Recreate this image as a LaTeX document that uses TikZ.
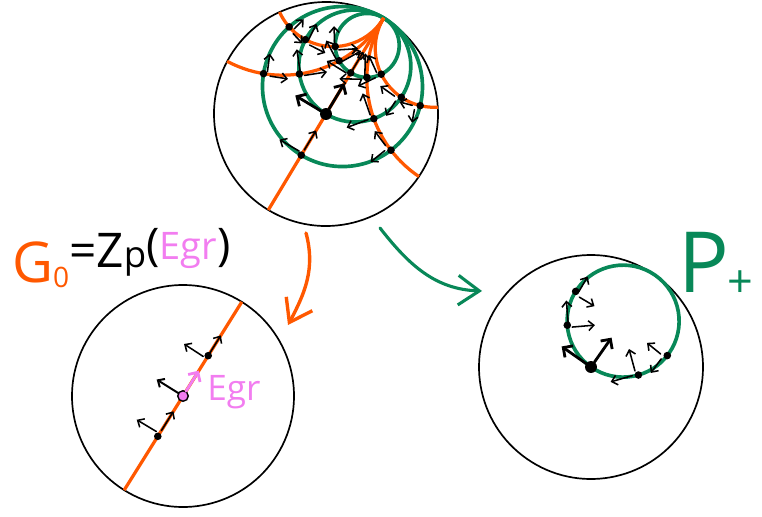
\documentclass[tikz,border=0pt]{standalone}
\usepackage{fontspec}
\setmainfont{Open Sans}
\usepackage{xcolor}
\usepackage{tikz}
\usetikzlibrary{arrows.meta}

\definecolor{geoorange}{RGB}{255,88,0}
\definecolor{horogreen}{RGB}{8,136,88}
\definecolor{grpink}{RGB}{242,125,240}

\tikzset{
  rim/.style={line width=1.2pt, black},
  geo/.style={line width=2.3pt, geoorange},
  horo/.style={line width=2.6pt, horogreen},
  vdot/.style={circle, fill=black, inner sep=0pt, minimum size=5.4pt},
  bigdot/.style={circle, fill=black, inner sep=0pt, minimum size=8.5pt},
  vec/.style={line width=1.1pt, line cap=round, -{Straight Barb[length=3.8pt,width=7pt]}},
  bigvec/.style={line width=2pt, line cap=round, -{Straight Barb[length=5pt,width=10pt]}},
  link/.style={line width=2.4pt, line cap=round, -{Straight Barb[length=15pt,width=21pt]}},
}

\begin{document}
\begin{tikzpicture}[x=0.025cm, y=0.025cm]
\useasboundingbox (0,0) rectangle (762,516);

% Top disk: horocycles and geodesics at the ideal point
\begin{scope}[shift={(326,402)}, rotate=59, scale=112]
  \draw[rim] (0,0) circle (1);
  \foreach \gy in {0.4,1,2.5}
    \draw[horo] ({1-1/(1+\gy)},0) circle ({1/(1+\gy)});
  \begin{scope}
    \clip (0,0) circle (1);
    \foreach \gx in {-1.9,-0.95,0.95,1.9}
      \draw[geo] (1,{-1/(\gx)}) circle ({1/abs(\gx)});
  \end{scope}
  \draw[geo] (-1,0) -- (1,0);
  % Frames at the crossings
  \foreach \gy [count=\j] in {0.4,1,2.5}
    \foreach \gx [count=\i] in {-1.9,-0.95,0,0.95,1.9} {
      \pgfmathsetmacro{\dnm}{(\gx)*(\gx)+(\gy+1)*(\gy+1)}
      \pgfmathsetmacro{\zx}{((\gx)*(\gx)+\gy*\gy-1)/\dnm}
      \pgfmathsetmacro{\zy}{-2*(\gx)/\dnm}
      \pgfmathsetmacro{\vang}{180-2*atan2(\gy+1,\gx)}
      \pgfmathsetmacro{\vlen}{(12+72*\gy/\dnm)/112}
      \pgfmathtruncatemacro{\isorg}{((\gx)==0)&&(\gy==1)}
      \ifnum\isorg=0
        \node[vdot] (t-\i-\j) at (\zx,\zy) {};
        \draw[vec] (t-\i-\j) -- ++(\vang:\vlen);
        \draw[vec] (t-\i-\j) -- ++({\vang+90}:\vlen);
      \fi
    }
  \node[bigdot] (t-o) at (0,0) {};
  \draw[bigvec] (t-o) -- ++(0:0.32);
  \draw[bigvec] (t-o) -- ++(90:0.32);
\end{scope}

% Bottom left disk: one geodesic
\begin{scope}[shift={(183,120)}, rotate=58, scale=111]
  \draw[rim] (0,0) circle (1);
  \draw[geo] (-1,0) -- (1,0);
  \foreach \gy [count=\j] in {0.4,2.5} {
    \pgfmathsetmacro{\dnm}{(\gy+1)*(\gy+1)}
    \pgfmathsetmacro{\zx}{(\gy*\gy-1)/\dnm}
    \pgfmathsetmacro{\vlen}{(12+72*\gy/\dnm)/111}
    \node[vdot] (l-\j) at (\zx,0) {};
    \draw[vec] (l-\j) -- ++(0:\vlen);
    \draw[vec] (l-\j) -- ++(90:\vlen);
  }
  \node[circle, fill=grpink, draw=black, line width=1pt, inner sep=0pt, minimum size=7.5pt] (l-o) at (0,0) {};
  \draw[bigvec, grpink] (l-o) -- ++(0:0.27);
  \draw[vec, line width=1.4pt] (l-o) -- ++(90:0.28);
\end{scope}
\node[text=grpink, anchor=base west, inner sep=0pt, font=\fontsize{25}{27}\selectfont] (lblE) at (207,116) {Egr};

% Bottom right disk: one horocycle
\begin{scope}[shift={(591,149)}, rotate=55, scale=112]
  \draw[rim] (0,0) circle (1);
  \draw[horo] (0.5,0) circle (0.5);
  \foreach \gx [count=\i] in {-1.9,-0.95,0.95,1.9} {
    \pgfmathsetmacro{\dnm}{(\gx)*(\gx)+4}
    \pgfmathsetmacro{\zx}{((\gx)*(\gx))/\dnm}
    \pgfmathsetmacro{\zy}{-2*(\gx)/\dnm}
    \pgfmathsetmacro{\vang}{180-2*atan2(2,\gx)}
    \pgfmathsetmacro{\vlen}{(12+72/\dnm)/112}
    \node[vdot] (r-\i) at (\zx,\zy) {};
    \draw[vec] (r-\i) -- ++(\vang:\vlen);
    \draw[vec] (r-\i) -- ++({\vang+90}:\vlen);
  }
  \node[bigdot] (r-o) at (0,0) {};
  \draw[bigvec] (r-o) -- ++(0:0.32);
  \draw[bigvec] (r-o) -- ++(90:0.32);
\end{scope}

% Arrows between disks
\coordinate (oaS) at (306,283);
\coordinate (oaE) at (288,191);
\draw[link, geoorange] (oaS) to[out=-75, in=62] (oaE);
\coordinate (gaS) at (380,288);
\coordinate (gaE) at (482,225);
\draw[link, horogreen, line width=2.2pt] (gaS) to[out=-52, in=178] (gaE);

% Labels
\node[anchor=base west, inner sep=0pt] (lblG) at (12,234)
  {\textcolor{geoorange}{\fontsize{40}{40}\selectfont G\raisebox{-4pt}{\fontsize{20}{20}\selectfont 0}}%
   \raisebox{10pt}{\fontsize{34}{36}\selectfont =Z{\fontsize{26}{28}\selectfont p}%
   \raisebox{5pt}{\fontsize{32}{32}\selectfont (}%
   \raisebox{6pt}{\textcolor{grpink}{\fontsize{27}{30}\selectfont Egr}}%
   \raisebox{5pt}{\fontsize{32}{32}\selectfont )}}};
\node[anchor=base west, inner sep=0pt, text=horogreen] (lblP) at (678,224)
  {\fontsize{60}{62}\selectfont P\kern-1pt\raisebox{-4pt}{\fontsize{32}{32}\selectfont +}};

\end{tikzpicture}
\end{document}
